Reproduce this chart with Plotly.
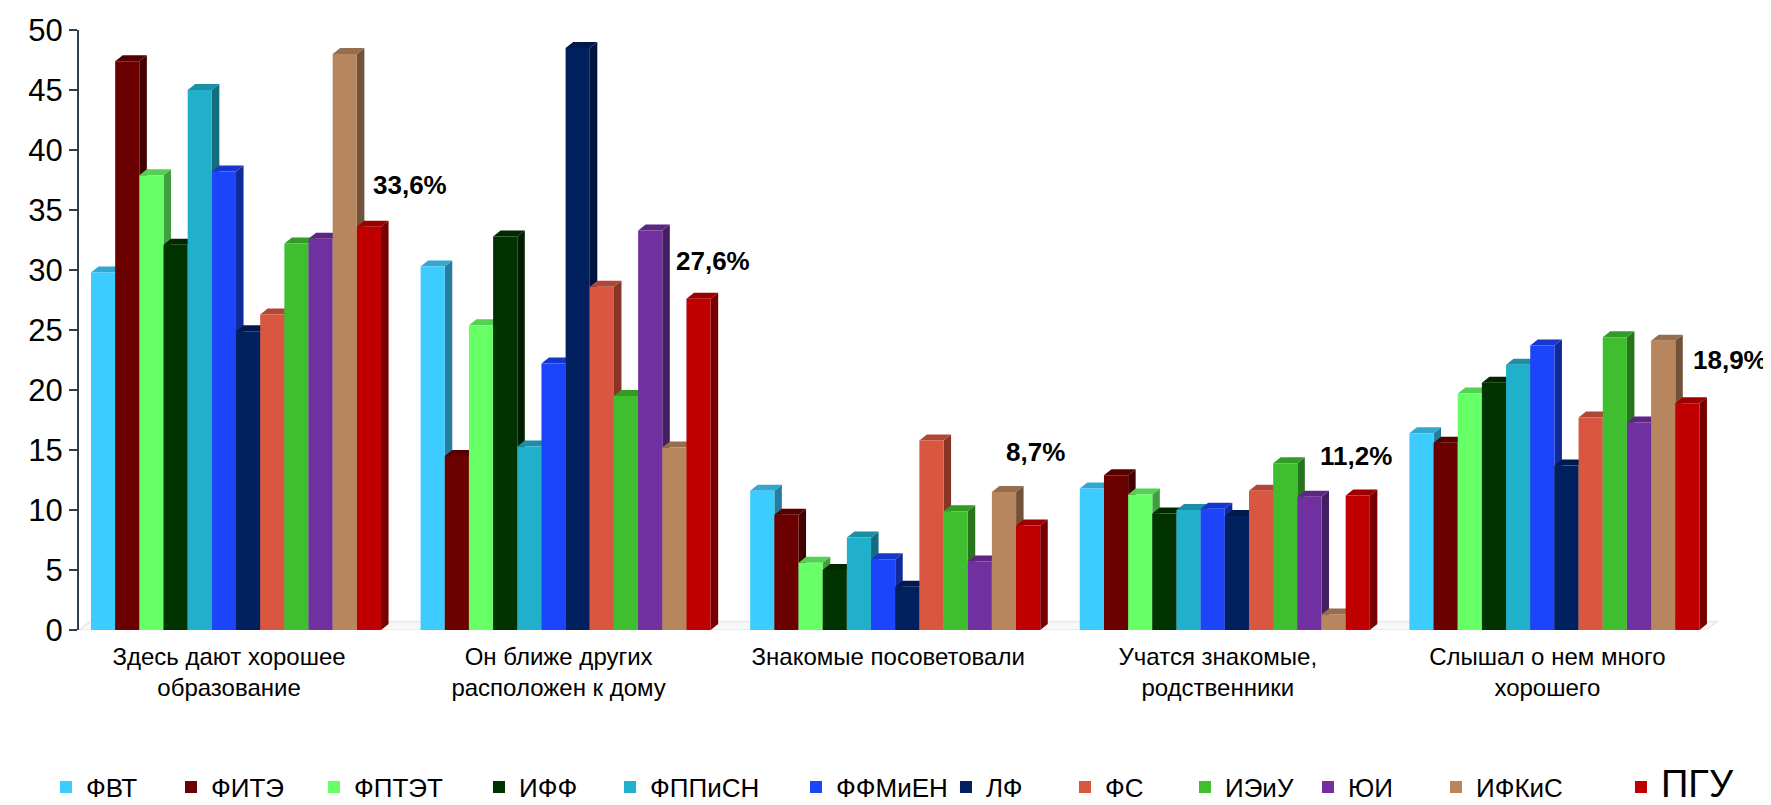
import plotly.graph_objects as go

# ---------------- data ----------------
categories = [
    "Здесь дают хорошее<br>образование",
    "Он ближе других<br>расположен к дому",
    "Знакомые посоветовали",
    "Учатся знакомые,<br>родственники",
    "Слышал о нем много<br>хорошего",
]
series_names = ["ФВТ", "ФИТЭ", "ФПТЭТ", "ИФФ", "ФППиСН", "ФФМиЕН",
                "ЛФ", "ФС", "ИЭиУ", "ЮИ", "ИФКиС", "ПГУ"]

fvt = [29.8, 30.3, 11.6, 11.8, 16.4]
fite = [47.4, 14.5, 9.6, 12.9, 15.6]
fptet = [37.9, 25.4, 5.6, 11.3, 19.7]
iff = [32.1, 32.8, 5.0, 9.7, 20.6]
fppisn = [45.0, 15.3, 7.7, 10.0, 22.1]
ffmien = [38.2, 22.2, 5.9, 10.1, 23.7]
lf = [24.9, 48.5, 3.6, 9.5, 13.7]
fs = [26.3, 28.6, 15.8, 11.6, 17.7]
ieiu = [32.2, 19.5, 9.9, 13.9, 24.4]
yui = [32.6, 33.3, 5.7, 11.1, 17.3]
ifkis = [48.0, 15.2, 11.5, 1.3, 24.1]
pgu = [33.6, 27.6, 8.7, 11.2, 18.9]

series_values = [fvt, fite, fptet, iff, fppisn, ffmien, lf, fs, ieiu, yui, ifkis, pgu]

y_ticks = [0, 5, 10, 15, 20, 25, 30, 35, 40, 45, 50]

# ---------------- styles ----------------
colors = ["#3DCCFF", "#6B0000", "#66FF66", "#003300", "#20B0CC", "#1C44FA",
          "#01205E", "#D95640", "#3FBF2F", "#7030A0", "#B8865E", "#C00000"]
legend_widths = [80, 98, 120, 86, 141, 105, 74, 75, 78, 83, 140, 76]
label_xshift = [41, 14, 7, -2, 43]
label_yshift = [25, 21, 57, 23, 26]

BARGAP = 0.12
DX = 0.0228   # depth offset in x units
DY = 0.5      # depth offset in y units
X_RANGE = [-0.4764, 4.557]


def shade(hexc, f):
    h = hexc.lstrip("#")
    r, g, b = (int(h[i:i + 2], 16) for i in (0, 2, 4))
    return "#%02X%02X%02X" % (int(r * f), int(g * f), int(b * f))


n_series = len(series_names)
group_w = 1 - BARGAP
bar_w = group_w / n_series
xs = list(range(len(categories)))

fig = go.Figure()
shapes = []

# floor
x_left = X_RANGE[0]
x_right = len(categories) - 1 + group_w / 2 + 0.02
shapes.append(dict(
    type="path", xref="x", yref="y", layer="below",
    path=f"M{x_left},0 L{x_right},0 L{x_right + DX * 1.5},{DY * 1.4} L{x_left + DX * 1.5},{DY * 1.4} Z",
    fillcolor="#F8F8F8", line=dict(color="#E8E8E8", width=1.5),
))

for j, (name, vals, col) in enumerate(zip(series_names, series_values, colors)):
    label = name
    if name == "ПГУ":
        label = '<span style="font-size:38px">' + name + "</span>"
    fig.add_trace(go.Bar(
        x=xs, y=vals, name=label,
        marker=dict(color=col, line=dict(width=0)),
        legendwidth=legend_widths[j],
        hoverinfo="y",
    ))

# 3D side and top faces, ordered left to right
for i in xs:
    for j in range(n_series):
        v = series_values[j][i]
        xl = i - group_w / 2 + j * bar_w
        xr = xl + bar_w
        side = (f"M{xr},0 L{xr + DX},{DY} L{xr + DX},{v + DY} L{xr},{v} Z")
        top = (f"M{xl},{v} L{xl + DX},{v + DY} L{xr + DX},{v + DY} L{xr},{v} Z")
        shapes.append(dict(type="path", xref="x", yref="y", layer="below", path=side,
                           fillcolor=shade(colors[j], 0.62), line=dict(width=0)))
        shapes.append(dict(type="path", xref="x", yref="y", layer="below", path=top,
                           fillcolor=shade(colors[j], 0.82), line=dict(width=0)))

# data labels for ПГУ
annotations = []
for i in xs:
    v = pgu[i]
    xc = i - group_w / 2 + (n_series - 0.5) * bar_w
    annotations.append(dict(
        x=xc, y=v, xref="x", yref="y",
        text="<b>" + f"{v:.1f}".replace(".", ",") + "%</b>",
        showarrow=False, xanchor="center", yanchor="bottom",
        xshift=label_xshift[i], yshift=label_yshift[i],
        font=dict(family="Liberation Sans, Arial, sans-serif", size=26, color="#000000"),
    ))

fig.update_layout(
    width=1771, height=805,
    paper_bgcolor="white", plot_bgcolor="rgba(0,0,0,0)",
    margin=dict(l=71, r=41, t=22, b=183, autoexpand=False),
    barmode="group", bargap=BARGAP, bargroupgap=0,
    shapes=shapes, annotations=annotations,
    showlegend=True,
    legend=dict(
        orientation="h", xref="paper", yref="paper",
        x=-0.0199, y=-0.262, xanchor="left", yanchor="middle",
        font=dict(family="Liberation Sans, Arial, sans-serif", size=26, color="#000000"),
        bgcolor="rgba(0,0,0,0)", borderwidth=0, traceorder="normal",
    ),
    font=dict(family="Liberation Sans, Arial, sans-serif", color="#000000"),
)

fig.update_xaxes(
    range=X_RANGE, tickmode="array", tickvals=xs, ticktext=categories,
    showgrid=False, zeroline=False, showline=False, ticks="",
    tickfont=dict(family="Liberation Sans, Arial, sans-serif", size=24, color="#000000"),
    ticklabelstandoff=10, ticklabelshift=-7, fixedrange=True,
)
fig.update_yaxes(
    range=[0, 50], tickmode="array", tickvals=y_ticks,
    showgrid=False, zeroline=False,
    showline=True, linecolor="#2E3F4F", linewidth=2,
    ticks="outside", ticklen=8, tickcolor="#2E3F4F", tickwidth=2,
    tickfont=dict(family="Liberation Sans, Arial, sans-serif", size=31, color="#000000"),
    fixedrange=True,
)

fig.write_html("out.html")
